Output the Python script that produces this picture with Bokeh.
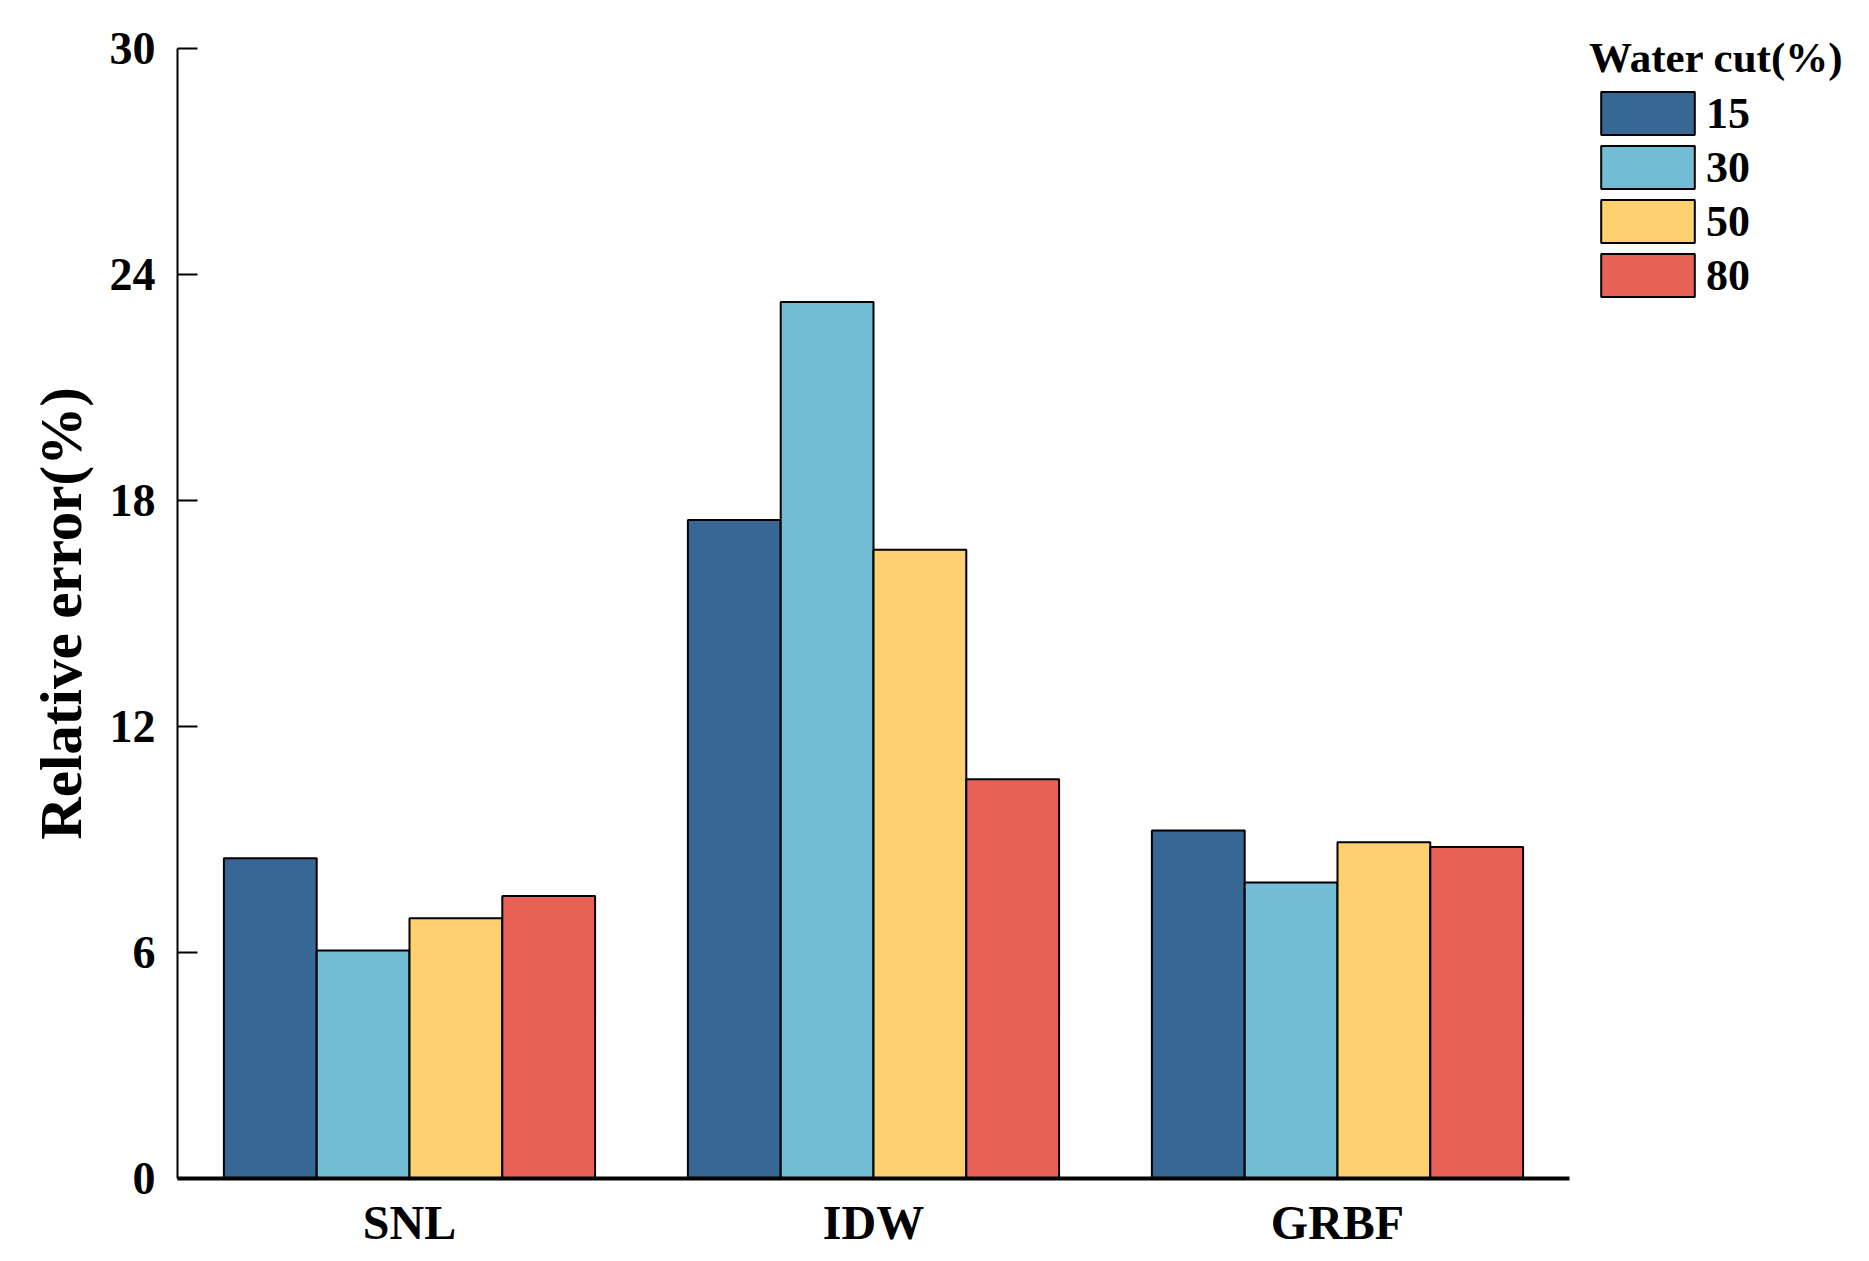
from bokeh.plotting import figure
from bokeh.models import FactorRange, Range1d, ColumnDataSource, Legend, LegendItem, FixedTicker
from bokeh.transform import dodge
from bokeh.embed import file_html
from bokeh.resources import INLINE

# ---- data ----
methods = ["SNL", "IDW", "GRBF"]
water_cuts = ["15", "30", "50", "80"]
wc15 = [8.50, 17.48, 9.24]
wc30 = [6.05, 23.27, 7.86]
wc50 = [6.91, 16.69, 8.93]
wc80 = [7.50, 10.60, 8.80]
colors = ["#376795", "#72BCD5", "#FFD06F", "#E76254"]
y_ticks = [0, 6, 12, 18, 24, 30]

FONT = "Liberation Serif"

source = ColumnDataSource(data=dict(method=methods, wc15=wc15, wc30=wc30, wc50=wc50, wc80=wc80))

p = figure(
    frame_width=1392, frame_height=1130,
    x_range=FactorRange(factors=methods, range_padding=0),
    y_range=Range1d(0, 30),
    output_backend="svg", toolbar_location=None,
    min_border_left=177, min_border_right=12, min_border_top=48, min_border_bottom=72,
)
p.outline_line_color = None
p.xgrid.grid_line_color = None
p.ygrid.grid_line_color = None
p.background_fill_color = "white"
p.border_fill_color = "white"

offsets = [-0.3, -0.1, 0.1, 0.3]
cols = ["wc15", "wc30", "wc50", "wc80"]
items = []
for col, off, c, lab in zip(cols, offsets, colors, water_cuts):
    r = p.vbar(x=dodge("method", off, range=p.x_range), top=col, width=0.2, bottom=0,
               source=source, fill_color=c, line_color="black", line_width=2)
    items.append(LegendItem(label=lab, renderers=[r]))

# axes
yax = p.yaxis[0]
yax.ticker = FixedTicker(ticks=y_ticks)
yax.axis_line_width = 2
yax.axis_line_color = "black"
yax.major_tick_in = 20
yax.major_tick_out = 0
yax.major_tick_line_width = 2
yax.minor_tick_line_color = None
yax.major_label_text_font = FONT
yax.major_label_text_font_style = "bold"
yax.major_label_text_font_size = "46px"
yax.major_label_text_color = "black"
yax.major_label_standoff = 22
yax.axis_label = "Relative error(%)"
yax.axis_label_text_font = FONT
yax.axis_label_text_font_style = "bold"
yax.axis_label_text_font_size = "59px"
yax.axis_label_text_color = "black"
yax.axis_label_standoff = 13

xax = p.xaxis[0]
xax.axis_line_width = 4
xax.axis_line_color = "black"
xax.major_tick_line_color = None
xax.minor_tick_line_color = None
xax.major_label_text_font = FONT
xax.major_label_text_font_style = "bold"
xax.major_label_text_font_size = "48px"
xax.major_label_text_color = "black"
xax.major_label_standoff = 11

legend = Legend(
    items=items,
    location=(20, 876),
    title="Water cut(%)",
    title_text_font=FONT, title_text_font_style="bold", title_text_font_size="43px",
    title_text_color="black",
    title_standoff=4,
    label_text_font=FONT, label_text_font_style="bold", label_text_font_size="44px",
    label_text_color="black",
    glyph_width=117, glyph_height=54, label_height=47,
    label_standoff=0, spacing=0, padding=0, margin=0,
    border_line_alpha=0, background_fill_alpha=0,
)
p.add_layout(legend, "right")

open("out.html", "w").write(file_html(p, INLINE))
